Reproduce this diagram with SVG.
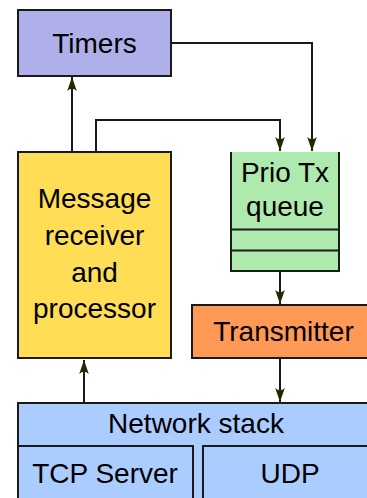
<svg xmlns="http://www.w3.org/2000/svg" width="367" height="498" viewBox="0 0 367 498">
<defs>
<style>
.box{stroke:#1a1a1a;stroke-width:2}
.t{font-family:"Liberation Sans",Arial,sans-serif;font-size:28px;fill:#000;text-anchor:middle}
.c{fill:none;stroke:#1a1a1a;stroke-width:2}
</style>
<marker id="ah" markerUnits="userSpaceOnUse" markerWidth="20" markerHeight="14" viewBox="-16 -7 18 14" refX="0" refY="0" orient="auto" overflow="visible">
<path d="M0,0 L-14,-4.8 Q-9.5,0 -14,4.8 Z" fill="#202a00"/>
</marker>
</defs>
<rect width="367" height="498" fill="#fff"/>
<g id="timers">
<rect class="box" x="18" y="10" width="153" height="66" fill="#afafe9"/>
<text class="t" x="94.5" y="52.5">Timers</text>
</g>
<g id="message">
<rect class="box" x="18" y="152" width="153" height="206" fill="#ffdd55"/>
<text class="t" x="94.5" y="207.5">Message</text>
<text class="t" x="94.5" y="244.5">receiver</text>
<text class="t" x="94.5" y="281.5">and</text>
<text class="t" x="94.5" y="318">processor</text>
</g>
<g id="queue">
<rect x="230" y="152" width="110" height="120" fill="#aeeaae"/>
<path class="c" d="M231,152 V271 H339 V152 M231,229.5 H339 M231,250.5 H339"/>
<text class="t" x="285" y="182">Prio Tx</text>
<text class="t" x="285" y="216">queue</text>
</g>
<g id="transmitter">
<rect class="box" x="192" y="305" width="183" height="53" fill="#ff9955"/>
<text class="t" x="283.5" y="341">Transmitter</text>
</g>
<g id="network">
<rect class="box" x="18" y="403" width="358" height="110" fill="#aaccff"/>
<text class="t" x="196" y="433">Network stack</text>
</g>
<g id="tcp">
<rect class="box" x="18" y="446" width="175" height="70" fill="#aaccff"/>
<text class="t" x="105" y="483">TCP Server</text>
</g>
<g id="udp">
<rect class="box" x="203" y="446" width="175" height="70" fill="#aaccff"/>
<text class="t" x="290" y="483">UDP</text>
</g>
<g id="connectors">
<path class="c" d="M72,152 V77" marker-end="url(#ah)"/>
<path class="c" d="M96,152 V120 H280 V151" marker-end="url(#ah)"/>
<path class="c" d="M171,43 H312 V151" marker-end="url(#ah)"/>
<path class="c" d="M280,272 V304" marker-end="url(#ah)"/>
<path class="c" d="M280,359 V402" marker-end="url(#ah)"/>
<path class="c" d="M84,403 V360" marker-end="url(#ah)"/>
</g>
</svg>
